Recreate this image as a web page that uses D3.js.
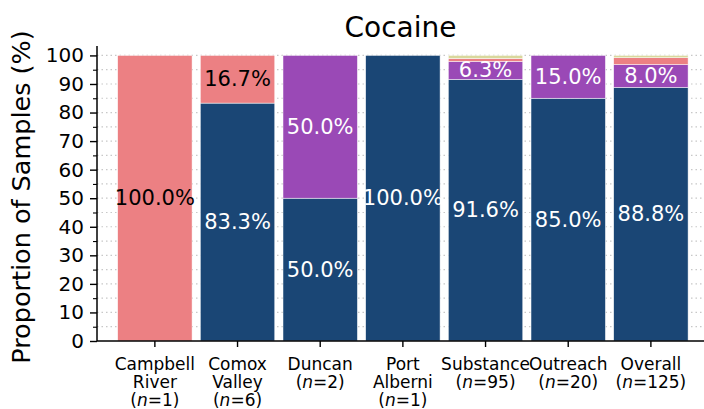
<!DOCTYPE html>
<html>
<head>
<meta charset="utf-8">
<script src="https://cdn.jsdelivr.net/npm/d3@7"></script>
<style>
  body { margin: 0; background: #fff; }
  text { font-family: "DejaVu Sans", sans-serif; }
</style>
</head>
<body>
<svg id="chart" width="704" height="409"></svg>
<script>
// sites along the x axis
const sites = ["Campbell River", "Comox Valley", "Duncan", "Port Alberni", "Substance", "Outreach", "Overall"];
const siteLines = [["Campbell", "River"], ["Comox", "Valley"], ["Duncan"], ["Port", "Alberni"], ["Substance"], ["Outreach"], ["Overall"]];
const sampleN = [1, 6, 2, 1, 95, 20, 125];

// stacked series, bottom to top (percent of samples)
const seriesNames = ["Group 1", "Group 2", "Group 3", "Group 4"];
const group1 = [0, 83.3, 50, 100, 91.6, 85, 88.8];
const group2 = [0, 0, 50, 0, 6.3, 15, 8.0];
const group3 = [100, 16.7, 0, 0, 1.05, 0, 2.4];
const group4 = [0, 0, 0, 0, 1.05, 0, 0.8];

const yTicks = [0, 10, 20, 30, 40, 50, 60, 70, 80, 90, 100];

const colors = ["#1a4675", "#9a49b6", "#ec8083", "#d9d89c"];
const labelColors = ["#fff", "#fff", "#000", "#000"];

const svg = d3.select("#chart");
const margin = {left: 97, right: 0, top: 46, bottom: 68};
const W = 704, H = 409;

const rows = sites.map((s, i) => ({site: s, "Group 1": group1[i], "Group 2": group2[i], "Group 3": group3[i], "Group 4": group4[i]}));
const stacked = d3.stack().keys(seriesNames)(rows);

const step = 82.67;
const x = d3.scaleBand().domain(sites)
  .range([margin.left, margin.left + step * 7.4])
  .paddingInner(0.1).paddingOuter(0.25);
const y = d3.scaleLinear().domain([0, 103.3]).range([H - margin.bottom, margin.top]);

// dotted gridlines every 5
svg.append("g").selectAll("line")
  .data(d3.range(5, 101, 5))
  .join("line")
  .attr("x1", margin.left).attr("x2", W)
  .attr("y1", d => y(d)).attr("y2", d => y(d))
  .attr("stroke", "#c8c8c8").attr("stroke-width", 1.2)
  .attr("stroke-dasharray", "1.5,3");

// bars
const layers = svg.append("g").selectAll("g")
  .data(stacked)
  .join("g")
  .attr("fill", (d, i) => colors[i]);

layers.selectAll("rect")
  .data(d => d.map(v => ({v, site: v.data.site})))
  .join("rect")
  .attr("x", d => x(d.site))
  .attr("width", x.bandwidth())
  .attr("y", d => y(d.v[1]))
  .attr("height", d => Math.max(0, y(d.v[0]) - y(d.v[1])))
  .attr("stroke", "#fff").attr("stroke-width", 0.6)
  .attr("stroke-opacity", d => (d.v[1] - d.v[0]) > 0 ? 0.8 : 0);

// value labels (only segments >= 5%)
stacked.forEach((layer, li) => {
  svg.append("g").selectAll("text")
    .data(layer.filter(v => (v[1] - v[0]) >= 5))
    .join("text")
    .attr("x", v => x(v.data.site) + x.bandwidth() / 2)
    .attr("y", v => y((v[0] + v[1]) / 2))
    .attr("text-anchor", "middle")
    .attr("dominant-baseline", "central")
    .attr("font-size", 21)
    .attr("fill", labelColors[li])
    .text(v => (v[1] - v[0]).toFixed(1) + "%");
});

// y axis
svg.append("g")
  .attr("transform", `translate(${margin.left},0)`)
  .call(d3.axisLeft(y).tickValues(yTicks).tickSize(7).tickPadding(6))
  .call(g => g.select(".domain").remove())
  .call(g => g.selectAll("text").attr("font-size", 20).attr("fill", "#000").attr("font-family", "DejaVu Sans"))
  .call(g => g.selectAll("line").attr("stroke-width", 1.4));
svg.append("g").attr("transform", `translate(${margin.left},0)`)
  .call(d3.axisLeft(y).tickValues(d3.range(5, 100, 10)).tickSize(4).tickFormat(""))
  .call(g => g.select(".domain").remove())
  .call(g => g.selectAll("line").attr("stroke-width", 1.1));
svg.append("line")
  .attr("x1", margin.left).attr("x2", margin.left)
  .attr("y1", y(103.3)).attr("y2", y(0))
  .attr("stroke", "#000").attr("stroke-width", 1.5);

// x axis
svg.append("g")
  .attr("transform", `translate(0,${y(0)})`)
  .call(d3.axisBottom(x).tickSize(6).tickFormat(""))
  .call(g => g.select(".domain").remove())
  .call(g => g.selectAll("line").attr("stroke-width", 1.4));
svg.append("line")
  .attr("x1", margin.left).attr("x2", W)
  .attr("y1", y(0)).attr("y2", y(0))
  .attr("stroke", "#000").attr("stroke-width", 1.5);

// x labels: one text per line
const xg = svg.append("g");
sites.forEach((d, i) => {
  const cx = x(d) + x.bandwidth() / 2;
  siteLines[i].forEach((line, k) => {
    xg.append("text")
      .attr("x", cx).attr("y", 370 + k * 17.8)
      .attr("text-anchor", "middle")
      .attr("font-size", 17)
      .text(line);
  });
  const last = xg.append("text")
    .attr("x", cx).attr("y", 370 + siteLines[i].length * 17.8)
    .attr("text-anchor", "middle")
    .attr("font-size", 17);
  last.append("tspan").text("(");
  last.append("tspan").attr("font-style", "italic").text("n");
  last.append("tspan").text("=" + sampleN[i] + ")");
});

// title and y label
svg.append("text")
  .attr("x", (margin.left + W) / 2).attr("y", 37)
  .attr("text-anchor", "middle")
  .attr("font-size", 28)
  .text("Cocaine");

svg.append("text")
  .attr("transform", `translate(21,${(y(0) + 25) / 2 + 14}) rotate(-90)`)
  .attr("text-anchor", "middle")
  .attr("dominant-baseline", "central")
  .attr("font-size", 25.5)
  .text("Proportion of Samples (%)");
</script>
</body>
</html>
